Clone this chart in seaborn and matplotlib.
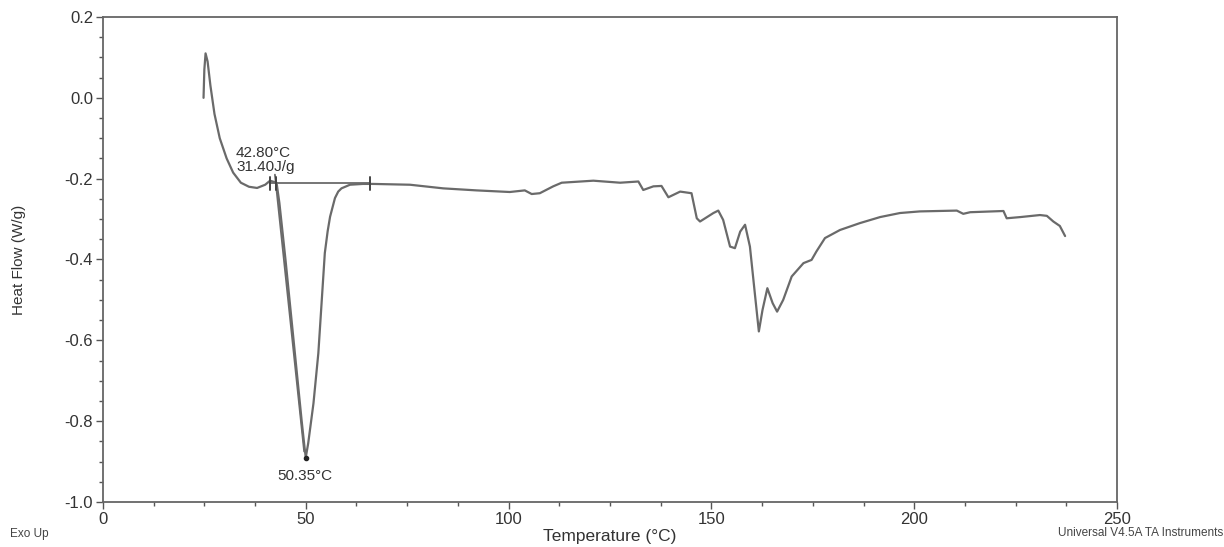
# DSC thermogram - heat flow vs temperature
import pandas as pd
import matplotlib.pyplot as plt
import seaborn as sns
from matplotlib.ticker import MultipleLocator, AutoMinorLocator

# Data
temperature = [24.8, 25.0, 25.3, 25.8, 26.5, 27.5, 28.8, 30.5, 32.1, 34.0, 36.0, 38.0, 40.0, 41.2,
               42.8, 43.5, 45.0, 47.0, 49.0, 49.7, 50.0, 50.6, 51.9, 53.1, 53.9, 54.7, 55.4, 56.0,
               57.2, 58.0, 58.8, 60.9, 64.1, 66.6, 75.7, 83.9, 92.1, 100.3, 104.0, 105.7, 107.7,
               111.0, 113.1, 120.9, 127.5, 132.0, 133.2, 135.7, 137.7, 139.4, 142.3, 145.1,
               146.4, 147.2, 150.5, 151.7, 152.9, 154.6, 155.8, 157.1, 158.3, 159.5, 160.7,
               161.7, 162.6, 163.8, 165.1, 166.2, 167.7, 169.8, 172.7, 174.7, 175.9, 178.0,
               181.7, 186.6, 191.6, 196.5, 201.4, 210.5, 212.1, 213.8, 222.0, 222.8, 226.2,
               231.0, 232.7, 234.3, 235.9, 237.2]
heat_flow = [0.0, 0.07, 0.11, 0.09, 0.03, -0.04, -0.10, -0.15, -0.185, -0.21, -0.22, -0.223, -0.215,
             -0.205, -0.21, -0.26, -0.40, -0.60, -0.80, -0.865, -0.89, -0.855, -0.756, -0.632,
             -0.508, -0.384, -0.33, -0.294, -0.248, -0.232, -0.224, -0.215, -0.213, -0.213,
             -0.215, -0.224, -0.229, -0.233, -0.229, -0.238, -0.236, -0.219, -0.21, -0.205,
             -0.21, -0.207, -0.228, -0.219, -0.218, -0.246, -0.232, -0.236, -0.298, -0.306,
             -0.285, -0.279, -0.302, -0.368, -0.372, -0.331, -0.314, -0.368, -0.483, -0.578,
             -0.525, -0.471, -0.508, -0.529, -0.50, -0.442, -0.409, -0.401, -0.38, -0.347,
             -0.327, -0.31, -0.295, -0.285, -0.281, -0.279, -0.287, -0.283, -0.28, -0.298,
             -0.295, -0.29, -0.292, -0.306, -0.317, -0.342]

# integration baseline, onset tangent and limit markers
baseline_t = [41.2, 65.8]
baseline_y = [-0.21, -0.21]
tangent_t = [42.4, 49.6]
tangent_y = [-0.19, -0.875]
marker_t = [41.2, 42.7, 65.8]

peak_t, peak_y = 50.0, -0.89
onset_label = "42.80°C\n31.40J/g"
peak_label = "50.35°C"

df = pd.DataFrame({'Temperature': temperature, 'HeatFlow': heat_flow})

sns.set_style('ticks')
plt.rcParams['font.family'] = ['Liberation Sans', 'DejaVu Sans']

fig = plt.figure(figsize=(12.24, 5.47), dpi=100)
ax = fig.add_axes([0.0841, 0.0823, 0.8285, 0.8866])

line_col = '#6a6a6a'
sns.lineplot(data=df, x='Temperature', y='HeatFlow', ax=ax, color=line_col,
             linewidth=1.6, sort=False)
ax.plot(baseline_t, baseline_y, color=line_col, linewidth=1.3)
ax.plot(tangent_t, tangent_y, color=line_col, linewidth=1.3)
for t in marker_t:
    ax.plot([t, t], [-0.195, -0.227], color='#444444', linewidth=1.4)
ax.plot([peak_t], [peak_y], 'o', color='#222222', markersize=3)

ax.text(32.8, -0.118, onset_label, fontsize=11, color='#333333', va='top',
        ha='left', linespacing=1.0)
ax.text(49.8, -0.935, peak_label, fontsize=11, color='#333333', ha='center', va='center')

ax.set_xlim(0, 250)
ax.set_ylim(-1.0, 0.2)
ax.xaxis.set_major_locator(MultipleLocator(50))
ax.xaxis.set_minor_locator(AutoMinorLocator(4))
ax.yaxis.set_major_locator(MultipleLocator(0.2))
ax.yaxis.set_minor_locator(AutoMinorLocator(4))
ax.yaxis.set_major_formatter(plt.FuncFormatter(lambda v, p: f"{v:.1f}"))

ax.tick_params(axis='both', which='major', direction='out', length=5, width=1,
               color='#555555', labelsize=12, labelcolor='#333333', pad=2,
               bottom=True, left=True, top=False, right=False)
ax.tick_params(axis='both', which='minor', direction='out', length=3, width=1,
               color='#555555', bottom=True, left=True, top=False, right=False)
for s in ax.spines.values():
    s.set_color('#666666')
    s.set_linewidth(1.3)

ax.set_xlabel('Temperature (°C)', fontsize=12.5, color='#333333', va='center')
ax.xaxis.set_label_coords(0.5, -0.072)
ax.set_ylabel('Heat Flow (W/g)', fontsize=11, color='#333333', labelpad=28)

fig.text(0.008, 0.012, 'Exo Up', fontsize=8.5, color='#444444', ha='left', va='bottom')
fig.text(0.999, 0.014, 'Universal V4.5A TA Instruments', fontsize=8.5, color='#444444',
         ha='right', va='bottom')

fig.savefig('out.png', dpi=100)
